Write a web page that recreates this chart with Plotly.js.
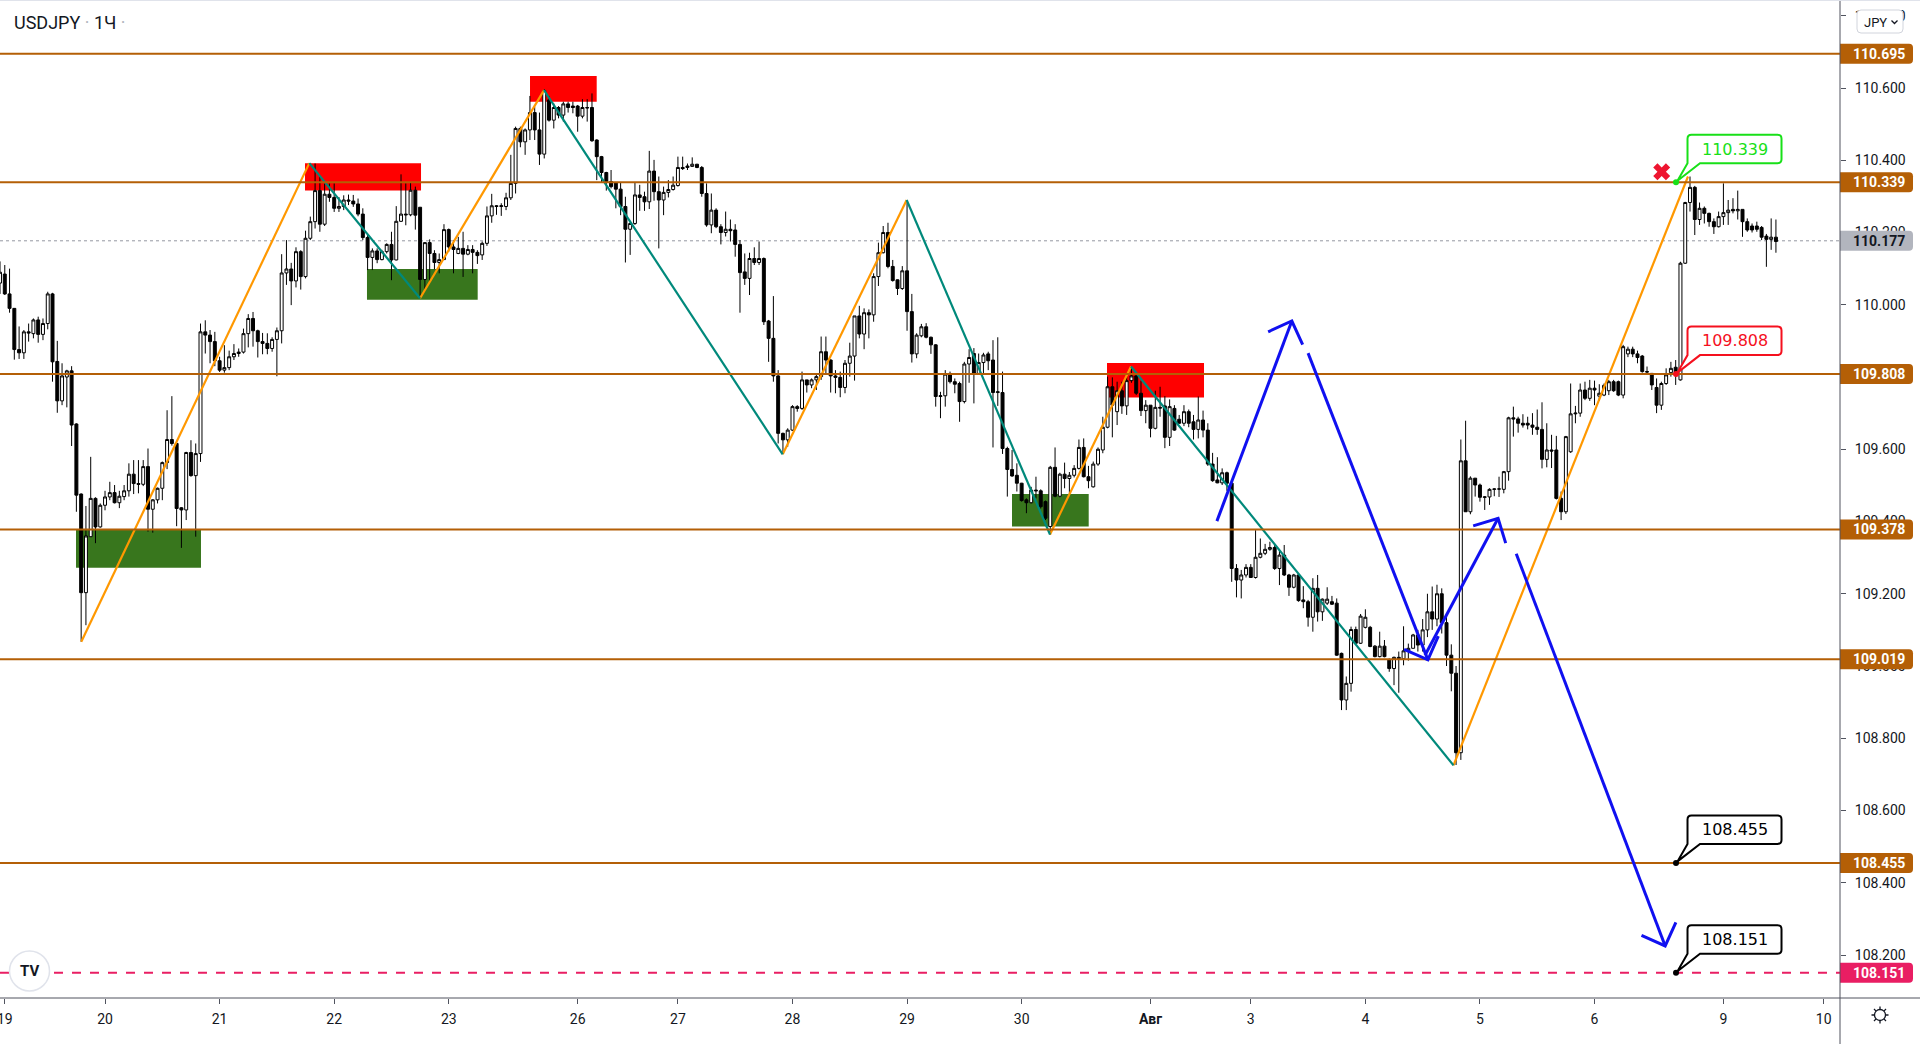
<!DOCTYPE html>
<html><head><meta charset="utf-8">
<script src="https://cdn.plot.ly/plotly-3.0.1.min.js"></script>
<style>html,body{margin:0;padding:0;background:#fff;overflow:hidden}#chart{width:1920px;height:1044px}</style>
</head><body><div id="chart"></div>
<script>
// ---------------- DATA (hourly USDJPY candles) ----------------
const symbolTitle = 'USDJPY';
const intervalTitle = '1Ч';
const currencyButton = 'JPY';

const opens = [
110.06,110.085,110.03,109.99,109.876,109.867,109.925,109.92,109.958,109.918,
109.948,110.03,109.843,109.734,109.80,109.817,109.67,109.476,109.203,109.358,
109.464,109.385,109.445,109.468,109.48,109.452,109.469,109.485,109.531,109.505,
109.503,109.552,109.434,109.46,109.492,109.563,109.627,109.616,109.438,109.432,
109.591,109.527,109.588,109.925,109.916,109.898,109.845,109.819,109.826,109.856,
109.865,109.869,109.92,109.962,109.928,109.898,109.893,109.879,109.904,109.928,
110.088,110.099,110.066,110.147,110.078,110.184,110.23,110.316,110.223,110.306,
110.297,110.267,110.272,110.29,110.287,110.279,110.251,110.186,110.131,110.149,
110.125,110.147,110.167,110.124,110.231,110.251,110.249,110.317,110.27,110.07,
110.172,110.142,110.117,110.125,110.208,110.16,110.142,110.156,110.14,110.153,
110.145,110.138,110.17,110.246,110.274,110.272,110.272,110.296,110.336,110.488,
110.451,110.484,110.532,110.484,110.417,110.567,110.511,110.546,110.525,110.556,
110.55,110.55,110.522,110.546,110.546,110.456,110.41,110.366,110.341,110.338,
110.32,110.272,110.209,110.225,110.304,110.299,110.285,110.37,110.313,110.29,
110.311,110.319,110.33,110.38,110.38,110.383,110.389,110.38,110.308,110.221,
110.262,110.216,110.2,110.209,110.207,110.167,110.091,110.073,110.128,110.117,
110.128,109.955,109.907,109.803,109.644,109.626,109.653,109.718,109.713,109.792,
109.778,109.792,109.801,109.87,109.847,109.803,109.799,109.771,109.838,109.858,
109.969,109.919,109.978,109.972,110.078,110.144,110.2,110.106,110.069,110.045,
110.094,109.981,109.864,109.914,109.939,109.91,109.889,109.746,109.748,109.808,
109.787,109.782,109.732,109.836,109.865,109.81,109.84,109.864,109.847,109.757,
109.757,109.602,109.544,109.528,109.506,109.46,109.452,109.487,109.485,109.455,
109.386,109.55,109.47,109.531,109.519,109.528,109.547,109.605,109.524,109.496,
109.559,109.598,109.661,109.773,109.704,109.762,109.72,109.79,109.803,109.755,
109.707,109.722,109.658,109.716,109.72,109.633,109.713,109.683,109.672,109.704,
109.676,109.655,109.681,109.653,109.559,109.515,109.507,109.535,109.506,109.27,
109.238,109.252,109.273,109.245,109.301,109.312,109.323,109.328,109.27,109.307,
109.252,109.218,109.252,109.183,109.178,109.135,109.215,109.15,109.174,109.178,
109.174,109.035,108.906,108.952,109.101,109.063,109.107,109.107,109.055,109.026,
109.055,109.018,108.993,109.024,109.02,109.042,109.049,109.086,109.058,109.1,
109.15,109.13,109.2,109.12,109.03,108.98,108.76,109.568,109.427,109.52,
109.501,109.467,109.468,109.489,109.49,109.489,109.538,109.687,109.684,109.672,
109.672,109.667,109.661,109.655,109.572,109.598,109.598,109.464,109.427,109.593,
109.698,109.7,109.764,109.741,109.769,109.747,109.75,109.762,109.787,109.787,
109.75,109.864,109.877,109.864,109.858,109.815,109.81,109.771,109.722,109.782,
109.812,109.827,109.792,110.115,110.283,110.325,110.236,110.267,110.253,110.23,
110.216,110.244,110.255,110.264,110.26,110.264,110.23,110.218,110.218,110.214,
110.19,110.181,110.187];

const highs = [
110.12,110.11,110.10,109.99,109.94,109.93,109.948,109.962,109.967,109.962,
110.036,110.033,109.9,109.838,109.82,109.83,109.672,109.478,109.443,109.579,
109.467,109.45,109.485,109.51,109.501,109.485,109.501,109.561,109.57,109.57,
109.57,109.602,109.462,109.494,109.566,109.708,109.747,109.618,109.44,109.593,
109.625,109.616,109.948,109.957,109.93,109.925,109.856,109.888,109.873,109.891,
109.879,109.934,109.974,109.98,109.931,109.922,109.921,109.91,109.937,110.14,
110.179,110.116,110.159,110.151,110.205,110.244,110.391,110.354,110.336,110.336,
110.336,110.298,110.303,110.305,110.304,110.294,110.267,110.197,110.156,110.156,
110.152,110.17,110.202,110.273,110.361,110.336,110.338,110.327,110.27,110.173,
110.181,110.151,110.142,110.223,110.211,110.179,110.188,110.202,110.165,110.165,
110.151,110.175,110.272,110.307,110.276,110.281,110.31,110.415,110.493,110.493,
110.488,110.578,110.548,110.532,110.597,110.578,110.557,110.55,110.562,110.562,
110.562,110.553,110.569,110.569,110.585,110.458,110.412,110.368,110.373,110.34,
110.338,110.299,110.228,110.338,110.332,110.313,110.426,110.401,110.355,110.327,
110.345,110.355,110.41,110.41,110.391,110.408,110.39,110.384,110.336,110.308,
110.267,110.223,110.258,110.236,110.223,110.179,110.142,110.144,110.159,110.175,
110.131,109.958,110.024,109.819,109.646,109.658,109.722,109.722,109.815,109.792,
109.796,109.81,109.912,109.912,109.849,109.819,109.815,109.847,109.895,109.969,
109.997,109.99,109.987,110.087,110.172,110.218,110.227,110.124,110.07,110.107,
110.29,110.03,109.921,109.947,109.949,109.912,109.891,109.759,109.819,109.815,
109.796,109.787,109.842,109.877,109.88,109.865,109.867,109.87,109.902,109.91,
109.815,109.607,109.598,109.561,109.507,109.464,109.496,109.524,109.489,109.458,
109.554,109.605,109.535,109.563,109.537,109.556,109.627,109.63,109.554,109.566,
109.605,109.69,109.801,109.799,109.787,109.787,109.81,109.829,109.81,109.79,
109.736,109.722,109.762,109.773,109.747,109.738,109.722,109.695,109.722,109.71,
109.695,109.746,109.707,109.672,109.59,109.578,109.547,109.538,109.506,109.282,
109.266,109.282,109.282,109.376,109.353,109.338,109.344,109.338,109.323,109.335,
109.255,109.255,109.256,109.221,109.183,109.243,109.252,109.187,109.218,109.194,
109.187,109.037,108.971,109.109,109.109,109.144,109.157,109.111,109.058,109.095,
109.072,109.021,109.026,109.04,109.11,109.062,109.089,109.1,109.13,109.2,
109.22,109.225,109.215,109.14,109.06,109.0,109.627,109.679,109.525,109.52,
109.505,109.47,109.492,109.492,109.524,109.54,109.69,109.718,109.69,109.697,
109.69,109.7,109.71,109.73,109.672,109.64,109.637,109.483,109.637,109.782,
109.72,109.782,109.787,109.792,109.79,109.78,109.782,109.792,109.792,109.79,
109.889,109.884,109.884,109.873,109.861,109.829,109.81,109.796,109.787,109.824,
109.842,109.847,110.119,110.285,110.355,110.329,110.283,110.272,110.255,110.239,
110.258,110.336,110.29,110.295,110.316,110.264,110.239,110.225,110.23,110.218,
110.196,110.239,110.236];

const lows = [
110.03,110.027,109.978,109.848,109.85,109.85,109.898,109.907,109.895,109.902,
109.932,109.787,109.701,109.722,109.716,109.609,109.427,109.067,109.113,109.358,
109.34,109.383,109.431,109.459,109.45,109.437,109.459,109.469,109.476,109.478,
109.498,109.372,109.369,109.45,109.459,109.545,109.61,109.387,109.327,109.404,
109.524,109.358,109.565,109.865,109.838,109.83,109.814,109.812,109.819,109.847,
109.856,109.865,109.882,109.884,109.854,109.863,109.863,109.87,109.802,109.893,
110.055,109.999,110.048,110.042,110.073,110.179,110.211,110.202,110.218,110.285,
110.257,110.257,110.262,110.276,110.271,110.245,110.179,110.096,110.096,110.115,
110.123,110.142,110.068,110.123,110.229,110.22,110.245,110.208,110.018,110.04,
110.064,110.098,110.087,110.124,110.147,110.087,110.14,110.077,110.137,110.087,
110.113,110.124,110.163,110.227,110.249,110.246,110.262,110.29,110.308,110.436,
110.415,110.456,110.456,110.387,110.405,110.507,110.488,110.516,110.507,110.532,
110.53,110.479,110.516,110.507,110.451,110.345,110.338,110.316,110.322,110.267,
110.248,110.117,110.138,110.221,110.26,110.26,110.265,110.288,110.156,110.248,
110.297,110.316,110.327,110.373,110.373,110.382,110.378,110.299,110.216,110.198,
110.212,110.167,110.189,110.175,110.133,109.978,110.055,110.027,110.11,110.11,
109.944,109.842,109.787,109.616,109.589,109.607,109.651,109.704,109.709,109.757,
109.769,109.764,109.792,109.81,109.757,109.755,109.744,109.755,109.801,109.79,
109.907,109.877,109.907,109.953,110.052,110.142,110.101,110.064,110.027,110.041,
109.928,109.84,109.852,109.91,109.907,109.864,109.718,109.686,109.718,109.782,
109.755,109.676,109.727,109.784,109.727,109.806,109.81,109.819,109.605,109.72,
109.587,109.469,109.524,109.483,109.455,109.423,109.45,109.464,109.436,109.404,
109.363,109.467,109.467,109.492,109.476,109.522,109.544,109.522,109.492,109.494,
109.554,109.589,109.658,109.633,109.667,109.698,109.695,109.784,109.75,109.692,
109.672,109.633,109.655,109.69,109.603,109.609,109.651,109.67,109.664,109.661,
109.627,109.63,109.633,109.554,109.51,109.506,109.501,109.485,109.233,109.19,
109.187,109.245,109.245,109.242,109.298,109.307,109.319,109.266,109.224,109.249,
109.194,109.215,109.178,109.16,109.109,109.095,109.123,109.125,109.169,109.169,
109.028,108.878,108.878,108.929,109.061,109.061,109.104,109.052,109.024,109.024,
109.024,108.984,108.947,108.926,109.002,109.015,109.049,109.04,109.04,109.08,
109.1,109.11,109.09,109.0,108.93,108.726,108.74,109.427,109.42,109.469,
109.455,109.432,109.446,109.47,109.468,109.478,109.513,109.635,109.646,109.66,
109.655,109.64,109.64,109.547,109.55,109.548,109.461,109.404,109.421,109.59,
109.672,109.69,109.736,109.734,109.722,109.734,109.747,109.75,109.759,109.747,
109.741,109.855,109.855,109.838,109.812,109.806,109.764,109.7,109.709,109.778,
109.801,109.778,109.79,110.113,110.258,110.193,110.221,110.225,110.216,110.196,
110.214,110.221,110.221,110.253,110.236,110.188,110.202,110.2,110.202,110.179,
110.105,110.152,110.144];

const closes = [
110.09,110.03,109.99,109.876,109.867,109.925,109.922,109.958,109.918,109.948,
110.03,109.842,109.734,109.803,109.817,109.667,109.473,109.203,109.36,109.464,
109.385,109.445,109.468,109.48,109.452,109.47,109.485,109.531,109.505,109.503,
109.552,109.434,109.46,109.492,109.563,109.627,109.616,109.436,109.432,109.591,
109.527,109.588,109.925,109.916,109.898,109.845,109.819,109.826,109.856,109.865,
109.869,109.92,109.962,109.928,109.898,109.893,109.879,109.904,109.928,110.088,
110.099,110.066,110.147,110.078,110.184,110.23,110.316,110.223,110.306,110.297,
110.267,110.272,110.29,110.287,110.279,110.251,110.186,110.131,110.149,110.125,
110.147,110.167,110.124,110.231,110.251,110.249,110.317,110.248,110.07,110.172,
110.142,110.117,110.125,110.208,110.16,110.153,110.156,110.14,110.153,110.145,
110.136,110.17,110.246,110.274,110.272,110.274,110.296,110.336,110.488,110.451,
110.484,110.532,110.484,110.417,110.593,110.511,110.546,110.525,110.556,110.546,
110.546,110.522,110.546,110.545,110.454,110.41,110.366,110.341,110.327,110.32,
110.272,110.209,110.225,110.304,110.297,110.285,110.37,110.313,110.29,110.311,
110.319,110.331,110.38,110.377,110.384,110.389,110.38,110.308,110.221,110.262,
110.216,110.2,110.209,110.205,110.167,110.089,110.073,110.128,110.117,110.128,
109.953,109.907,109.803,109.644,109.626,109.653,109.718,109.713,109.792,109.778,
109.792,109.801,109.87,109.847,109.803,109.799,109.771,109.838,109.858,109.969,
109.919,109.978,109.972,110.078,110.144,110.2,110.106,110.067,110.045,110.094,
109.981,109.864,109.916,109.939,109.91,109.889,109.746,109.748,109.808,109.787,
109.78,109.732,109.836,109.854,109.81,109.84,109.861,109.845,109.757,109.759,
109.602,109.544,109.526,109.506,109.458,109.452,109.487,109.485,109.441,109.409,
109.55,109.47,109.531,109.519,109.528,109.547,109.605,109.524,109.513,109.559,
109.6,109.661,109.773,109.722,109.762,109.72,109.79,109.803,109.755,109.707,
109.722,109.658,109.716,109.714,109.633,109.718,109.653,109.672,109.704,109.672,
109.655,109.681,109.653,109.559,109.513,109.507,109.535,109.506,109.27,109.238,
109.252,109.273,109.245,109.301,109.312,109.323,109.328,109.27,109.307,109.252,
109.218,109.252,109.181,109.178,109.135,109.215,109.15,109.185,109.185,109.171,
109.03,108.906,108.952,109.101,109.063,109.138,109.135,109.054,109.026,109.055,
109.026,108.993,109.024,109.02,109.042,109.049,109.086,109.058,109.1,109.15,
109.13,109.2,109.12,109.03,108.98,108.76,109.568,109.427,109.52,109.501,
109.467,109.468,109.489,109.49,109.49,109.538,109.687,109.684,109.672,109.667,
109.667,109.661,109.655,109.572,109.598,109.595,109.464,109.427,109.635,109.698,
109.7,109.764,109.741,109.769,109.764,109.755,109.777,109.787,109.762,109.75,
109.884,109.877,109.864,109.854,109.815,109.814,109.778,109.722,109.782,109.806,
109.824,109.812,110.115,110.283,110.325,110.236,110.267,110.253,110.23,110.216,
110.244,110.255,110.262,110.26,110.264,110.23,110.207,110.207,110.209,110.187,
110.181,110.187,110.175];

// time axis (bar positions of the day labels)
const tickBars   = [1, 22, 46, 70, 94, 121, 142, 166, 190, 214, 241, 262, 286, 310, 334, 361, 382];
const tickLabels = ['19','20','21','22','23','26','27','28','29','30','<b>Авг</b>','3','4','5','6','9','10'];

// price axis
const yTickValues = [108.2,108.4,108.6,108.8,109.0,109.2,109.4,109.6,109.8,110.0,110.2,110.4,110.6,110.8];
const yTickLabels = ['108.200','108.400','108.600','108.800','109.000','109.200','109.400','109.600','109.800','110.000','110.200','110.400','110.600','110.800'];

// horizontal levels
const levelPrices = [110.695, 110.339, 109.808, 109.378, 109.019, 108.455];
const targetPrice = 108.151;
const lastPrice = 110.177;

// zigzag swing points (bar, price)
const swingBars   = [17.03, 64.79, 87.98, 113.95, 163.95, 189.92, 219.94, 236.91, 304.46, 353.58];
const swingPrices = [109.067, 110.392, 110.018, 110.594, 109.586, 110.290, 109.364, 109.829, 108.725, 110.355];

// supply (red) / demand (green) zones
const zoneStartBars = [63.89, 111.02, 231.88, 15.92, 76.87, 211.98];
const zoneEndBars   = [88.19, 124.99, 252.20, 42.10, 100.06, 228.05];
const zoneTops      = [110.392, 110.633, 109.839, 109.379, 110.099, 109.476];
const zoneBottoms   = [110.316, 110.562, 109.743, 109.272, 110.014, 109.386];
const zoneKinds     = ['supply','supply','supply','demand','demand','demand'];

// blue forecast arrows
const arrowStartBars   = [254.9, 274.0, 298.5, 317.6];
const arrowStartPrices = [109.401, 109.866, 109.03, 109.311];
const arrowEndBars     = [270.6, 299.1, 313.8, 348.8];
const arrowEndPrices   = [109.955, 109.017, 109.409, 108.225];

// callouts
const calloutBars   = [351.07, 351.07, 351.07, 351.07];
const calloutPrices = [110.339, 109.808, 108.455, 108.151];
const calloutTexts  = ['110.339', '109.808', '108.455', '108.151'];
const calloutKinds  = ['green', 'red', 'black', 'black'];

// failed-breakout cross
const crossBars = [348.07];
const crossPrices = [110.368];

// ---------------- STYLE ----------------
const BROWN = '#B45F06', PINK = '#E91E63', ORANGE = '#FF9800', TEAL = '#00897B', BLUE = '#1010F0';
const TEXT = '#131722', AXIS = '#50535E';
const calloutColors = {green:'#18E018', red:'#F5101E', black:'#000000'};
const xRange = [0, 385.42];
const yRange = [108.081, 110.8436];
const PLOT_W = 1840, PLOT_H = 998;
const pxPerBar = PLOT_W / (xRange[1] - xRange[0]);
const pxPerPrice = PLOT_H / (yRange[1] - yRange[0]);

const barX = opens.map((_, i) => i);

const traces = [];
traces.push({
  type: 'candlestick', x: barX, open: opens, high: highs, low: lows, close: closes,
  increasing: {line: {color: '#000000', width: 1}, fillcolor: '#FFFFFF'},
  decreasing: {line: {color: '#000000', width: 1}, fillcolor: '#000000'},
  whiskerwidth: 0, hoverinfo: 'skip', showlegend: false
});

// zigzag: up legs orange, down legs teal
const upX = [], upY = [], dnX = [], dnY = [];
for (let i = 0; i < swingBars.length - 1; i++) {
  const up = swingPrices[i + 1] > swingPrices[i];
  const X = up ? upX : dnX, Y = up ? upY : dnY;
  X.push(swingBars[i], swingBars[i + 1], null);
  Y.push(swingPrices[i], swingPrices[i + 1], null);
}
traces.push({type: 'scatter', mode: 'lines', x: upX, y: upY, line: {color: ORANGE, width: 2.2}, hoverinfo: 'skip', connectgaps: false});
traces.push({type: 'scatter', mode: 'lines', x: dnX, y: dnY, line: {color: TEAL, width: 2.2}, hoverinfo: 'skip', connectgaps: false});

traces.push({type: 'scatter', mode: 'markers', x: crossBars, y: crossPrices,
  marker: {symbol: 'x', size: 15, color: '#EE1530', line: {width: 0}}, hoverinfo: 'skip'});

const shapes = [];
// zones
zoneStartBars.forEach((x0, i) => shapes.push({
  type: 'rect', layer: 'below', xref: 'x', yref: 'y', x0: x0, x1: zoneEndBars[i], y0: zoneBottoms[i], y1: zoneTops[i],
  fillcolor: zoneKinds[i] === 'supply' ? '#FF0000' : '#38761D', line: {width: 0}
}));
// last price dotted line
shapes.push({type: 'line', layer: 'below', xref: 'paper', x0: 0, x1: 1, yref: 'y', y0: lastPrice, y1: lastPrice, line: {color: '#9598A1', width: 1, dash: 'dot'}});
// levels
levelPrices.forEach(p => shapes.push({type: 'line', layer: 'above', xref: 'paper', x0: 0, x1: 1, yref: 'y', y0: p, y1: p, line: {color: BROWN, width: 2}}));
shapes.push({type: 'line', layer: 'above', xref: 'paper', x0: 0, x1: 1, yref: 'y', y0: targetPrice, y1: targetPrice, line: {color: PINK, width: 2, dash: 'dash'}});

// blue arrows
function headPath(bx0, p0, bx1, p1, len, ang) {
  const dx = (bx1 - bx0) * pxPerBar, dy = (p1 - p0) * pxPerPrice;
  const L = Math.hypot(dx, dy), ux = -dx / L, uy = -dy / L;
  const r = a => [len * (ux * Math.cos(a) - uy * Math.sin(a)), len * (ux * Math.sin(a) + uy * Math.cos(a))];
  const a1 = r(ang), a2 = r(-ang);
  return `M${a1[0].toFixed(1)},${a1[1].toFixed(1)} L0,0 L${a2[0].toFixed(1)},${a2[1].toFixed(1)}`;
}
arrowStartBars.forEach((b, i) => {
  shapes.push({type: 'line', layer: 'above', xref: 'x', yref: 'y', x0: b, y0: arrowStartPrices[i], x1: arrowEndBars[i], y1: arrowEndPrices[i], line: {color: BLUE, width: 3}});
  shapes.push({type: 'path', layer: 'above', xref: 'x', yref: 'y', xsizemode: 'pixel', ysizemode: 'pixel',
    xanchor: arrowEndBars[i], yanchor: arrowEndPrices[i],
    path: headPath(b, arrowStartPrices[i], arrowEndBars[i], arrowEndPrices[i], 26, Math.PI / 4),
    line: {color: BLUE, width: 3}});
});

// callouts
const calloutPath = 'M11.5,21 L11.5,43.5 Q11.5,47.5 15.5,47.5 L101.5,47.5 Q105.5,47.5 105.5,43.5 L105.5,23 Q105.5,19 101.5,19 L24,19 L1.5,1.5 L11.5,19 Z';
calloutBars.forEach((b, i) => {
  const c = calloutColors[calloutKinds[i]];
  shapes.push({type: 'path', layer: 'above', xref: 'x', yref: 'y', xsizemode: 'pixel', ysizemode: 'pixel',
    xanchor: b, yanchor: calloutPrices[i], path: calloutPath, fillcolor: '#FFFFFF', line: {color: c, width: 2}});
  shapes.push({type: 'circle', layer: 'above', xref: 'x', yref: 'y', xsizemode: 'pixel', ysizemode: 'pixel',
    xanchor: b, yanchor: calloutPrices[i], x0: -3, x1: 3, y0: -3, y1: 3, fillcolor: c, line: {width: 0}});
});

// price scale badges
const badgePath = 'M0,10 L69,10 Q73,10 73,6 L73,-6 Q73,-10 69,-10 L0,-10 Z';
const badges = levelPrices.map(p => ({p: p, bg: BROWN, fg: '#FFFFFF'}))
  .concat([{p: lastPrice, bg: '#B2B5BE', fg: TEXT}, {p: targetPrice, bg: PINK, fg: '#FFFFFF'}]);
badges.forEach(bd => shapes.push({type: 'path', layer: 'above', xref: 'paper', yref: 'y', xsizemode: 'pixel', ysizemode: 'pixel',
  xanchor: 1, yanchor: bd.p, path: badgePath, fillcolor: bd.bg, line: {width: 0}}));

// frame lines
shapes.push({type: 'line', layer: 'above', xref: 'paper', yref: 'paper', x0: 0, x1: 1920 / PLOT_W, y0: 0, y1: 0, line: {color: AXIS, width: 1}});
shapes.push({type: 'line', layer: 'above', xref: 'paper', yref: 'paper', x0: 1, x1: 1, y0: 1, y1: -46 / PLOT_H, line: {color: AXIS, width: 1}});
shapes.push({type: 'line', layer: 'above', xref: 'paper', yref: 'paper', x0: 0, x1: 1920 / PLOT_W, y0: 1, y1: 1, line: {color: '#E0E3EB', width: 2}});
// currency button
shapes.push({type: 'path', layer: 'above', xref: 'paper', yref: 'paper', xsizemode: 'pixel', ysizemode: 'pixel',
  xanchor: 1880 / PLOT_W, yanchor: (PLOT_H - 21.5) / PLOT_H,
  path: 'M-19,11.5 L19,11.5 Q23,11.5 23,7.5 L23,-7.5 Q23,-11.5 19,-11.5 L-19,-11.5 Q-23,-11.5 -23,-7.5 L-23,7.5 Q-23,11.5 -19,11.5 Z',
  fillcolor: '#FFFFFF', line: {color: '#D1D4DC', width: 1}});
shapes.push({type: 'path', layer: 'above', xref: 'paper', yref: 'paper', xsizemode: 'pixel', ysizemode: 'pixel',
  xanchor: 1894.5 / PLOT_W, yanchor: (PLOT_H - 22) / PLOT_H, path: 'M-3,1.5 L0,-1.5 L3,1.5', line: {color: TEXT, width: 1.3}});
// logo circle
shapes.push({type: 'circle', layer: 'above', xref: 'paper', yref: 'paper', xsizemode: 'pixel', ysizemode: 'pixel',
  xanchor: 29.5 / PLOT_W, yanchor: (PLOT_H - 971) / PLOT_H, x0: -20, x1: 20, y0: -20, y1: 20,
  fillcolor: '#FFFFFF', line: {color: '#E0E3EB', width: 1.5}});
// settings icon (gear outline)
shapes.push({type: 'circle', layer: 'above', xref: 'paper', yref: 'paper', xsizemode: 'pixel', ysizemode: 'pixel',
  xanchor: 1880 / PLOT_W, yanchor: (PLOT_H - 1015) / PLOT_H, x0: -5.5, x1: 5.5, y0: -5.5, y1: 5.5,
  fillcolor: 'rgba(0,0,0,0)', line: {color: TEXT, width: 1.3}});
shapes.push({type: 'path', layer: 'above', xref: 'paper', yref: 'paper', xsizemode: 'pixel', ysizemode: 'pixel',
  xanchor: 1880 / PLOT_W, yanchor: (PLOT_H - 1015) / PLOT_H,
  path: 'M0,5.5 L0,8.5 M0,-5.5 L0,-8.5 M5.5,0 L8.5,0 M-5.5,0 L-8.5,0 M3.9,3.9 L6,6 M-3.9,-3.9 L-6,-6 M3.9,-3.9 L6,-6 M-3.9,3.9 L-6,6',
  line: {color: TEXT, width: 1.3}});

const annotations = [];
annotations.push({xref: 'paper', yref: 'paper', x: 12 / PLOT_W, y: (PLOT_H - 22) / PLOT_H, xanchor: 'left', yanchor: 'middle', showarrow: false,
  text: symbolTitle + '<span style="color:#B2B5BE"> · </span>' + intervalTitle + '<span style="color:#B2B5BE"> ·</span>',
  font: {family: 'Roboto', size: 18, color: TEXT}});
annotations.push({xref: 'paper', yref: 'paper', x: 1875 / PLOT_W, y: (PLOT_H - 22) / PLOT_H, xanchor: 'center', yanchor: 'middle', showarrow: false,
  text: currencyButton, font: {family: 'Roboto', size: 13, color: TEXT}});
annotations.push({xref: 'paper', yref: 'paper', x: 29.5 / PLOT_W, y: (PLOT_H - 971) / PLOT_H, xanchor: 'center', yanchor: 'middle', showarrow: false,
  text: '<b>TV</b>', font: {family: 'Roboto', size: 15, color: TEXT}});
badges.forEach(bd => annotations.push({xref: 'paper', yref: 'y', x: 1 + 39 / PLOT_W, y: bd.p, xanchor: 'center', yanchor: 'middle', showarrow: false,
  text: '<b>' + bd.p.toFixed(3) + '</b>', font: {family: 'Roboto', size: 14, color: bd.fg}}));
calloutBars.forEach((b, i) => annotations.push({xref: 'x', yref: 'y', x: b, y: calloutPrices[i], xshift: 58.5, yshift: 33.25,
  xanchor: 'center', yanchor: 'middle', showarrow: false, text: calloutTexts[i],
  font: {family: 'DejaVu Sans', size: 16, color: calloutColors[calloutKinds[i]]}}));

const layout = {
  width: 1920, height: 1044, margin: {l: 0, r: 80, t: 0, b: 46, pad: 0},
  paper_bgcolor: '#FFFFFF', plot_bgcolor: '#FFFFFF', showlegend: false,
  boxgap: 0.35, boxgroupgap: 0.05,
  xaxis: {range: xRange, autorange: false, showgrid: false, zeroline: false, showline: false,
    rangeslider: {visible: false}, tickmode: 'array', tickvals: tickBars, ticktext: tickLabels,
    ticks: 'outside', ticklen: 5, tickwidth: 1, tickcolor: AXIS, ticklabelstandoff: 3, ticklabeloverflow: 'allow',
    tickfont: {family: 'Roboto', size: 14, color: TEXT}},
  yaxis: {side: 'right', range: yRange, autorange: false, showgrid: false, zeroline: false, showline: false,
    tickmode: 'array', tickvals: yTickValues, ticktext: yTickLabels,
    ticks: 'outside', ticklen: 5, tickwidth: 1, tickcolor: AXIS, ticklabelstandoff: 6,
    tickfont: {family: 'Roboto', size: 14, color: TEXT}},
  shapes: shapes, annotations: annotations
};

Plotly.newPlot('chart', traces, layout, {staticPlot: true, displayModeBar: false});
</script>
</body></html>
